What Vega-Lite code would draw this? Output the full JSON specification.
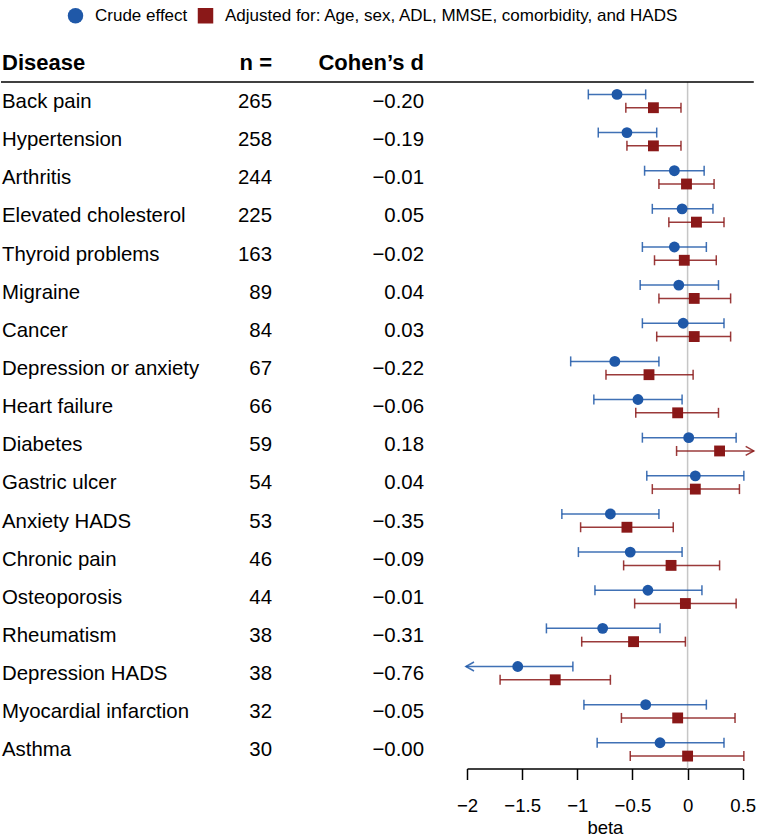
{
  "$schema": "https://vega.github.io/schema/vega-lite/v6.json",
  "padding": {"top": 7, "left": 0, "right": 0, "bottom": 0},
  "bounds": "flush",
  "spacing": 0,
  "config": {"font": "Liberation Sans", "view": {"stroke": null}},
  "datasets": {
    "table": [
      {"disease": "Back pain", "n": 265, "d": "−0.20"},
      {"disease": "Hypertension", "n": 258, "d": "−0.19"},
      {"disease": "Arthritis", "n": 244, "d": "−0.01"},
      {"disease": "Elevated cholesterol", "n": 225, "d": "0.05"},
      {"disease": "Thyroid problems", "n": 163, "d": "−0.02"},
      {"disease": "Migraine", "n": 89, "d": "0.04"},
      {"disease": "Cancer", "n": 84, "d": "0.03"},
      {"disease": "Depression or anxiety", "n": 67, "d": "−0.22"},
      {"disease": "Heart failure", "n": 66, "d": "−0.06"},
      {"disease": "Diabetes", "n": 59, "d": "0.18"},
      {"disease": "Gastric ulcer", "n": 54, "d": "0.04"},
      {"disease": "Anxiety HADS", "n": 53, "d": "−0.35"},
      {"disease": "Chronic pain", "n": 46, "d": "−0.09"},
      {"disease": "Osteoporosis", "n": 44, "d": "−0.01"},
      {"disease": "Rheumatism", "n": 38, "d": "−0.31"},
      {"disease": "Depression HADS", "n": 38, "d": "−0.76"},
      {"disease": "Myocardial infarction", "n": 32, "d": "−0.05"},
      {"disease": "Asthma", "n": 30, "d": "−0.00"}
    ],
    "header": [
      {"h": "Disease"},
      {"h": "n ="},
      {"h": "Cohen’s d"}
    ],
    "effects": [
      {"disease": "Back pain", "type": "Crude effect", "est": -0.64, "lo": -0.90, "hi": -0.38, "arrow": "none"},
      {"disease": "Back pain", "type": "Adjusted for: Age, sex, ADL, MMSE, comorbidity, and HADS", "est": -0.31, "lo": -0.56, "hi": -0.06, "arrow": "none"},
      {"disease": "Hypertension", "type": "Crude effect", "est": -0.55, "lo": -0.81, "hi": -0.28, "arrow": "none"},
      {"disease": "Hypertension", "type": "Adjusted for: Age, sex, ADL, MMSE, comorbidity, and HADS", "est": -0.31, "lo": -0.55, "hi": -0.06, "arrow": "none"},
      {"disease": "Arthritis", "type": "Crude effect", "est": -0.12, "lo": -0.39, "hi": 0.15, "arrow": "none"},
      {"disease": "Arthritis", "type": "Adjusted for: Age, sex, ADL, MMSE, comorbidity, and HADS", "est": -0.01, "lo": -0.26, "hi": 0.24, "arrow": "none"},
      {"disease": "Elevated cholesterol", "type": "Crude effect", "est": -0.05, "lo": -0.32, "hi": 0.23, "arrow": "none"},
      {"disease": "Elevated cholesterol", "type": "Adjusted for: Age, sex, ADL, MMSE, comorbidity, and HADS", "est": 0.08, "lo": -0.17, "hi": 0.33, "arrow": "none"},
      {"disease": "Thyroid problems", "type": "Crude effect", "est": -0.12, "lo": -0.41, "hi": 0.17, "arrow": "none"},
      {"disease": "Thyroid problems", "type": "Adjusted for: Age, sex, ADL, MMSE, comorbidity, and HADS", "est": -0.03, "lo": -0.30, "hi": 0.26, "arrow": "none"},
      {"disease": "Migraine", "type": "Crude effect", "est": -0.08, "lo": -0.43, "hi": 0.28, "arrow": "none"},
      {"disease": "Migraine", "type": "Adjusted for: Age, sex, ADL, MMSE, comorbidity, and HADS", "est": 0.06, "lo": -0.26, "hi": 0.39, "arrow": "none"},
      {"disease": "Cancer", "type": "Crude effect", "est": -0.04, "lo": -0.41, "hi": 0.33, "arrow": "none"},
      {"disease": "Cancer", "type": "Adjusted for: Age, sex, ADL, MMSE, comorbidity, and HADS", "est": 0.06, "lo": -0.28, "hi": 0.39, "arrow": "none"},
      {"disease": "Depression or anxiety", "type": "Crude effect", "est": -0.66, "lo": -1.06, "hi": -0.26, "arrow": "none"},
      {"disease": "Depression or anxiety", "type": "Adjusted for: Age, sex, ADL, MMSE, comorbidity, and HADS", "est": -0.35, "lo": -0.74, "hi": 0.05, "arrow": "none"},
      {"disease": "Heart failure", "type": "Crude effect", "est": -0.45, "lo": -0.85, "hi": -0.05, "arrow": "none"},
      {"disease": "Heart failure", "type": "Adjusted for: Age, sex, ADL, MMSE, comorbidity, and HADS", "est": -0.09, "lo": -0.47, "hi": 0.28, "arrow": "none"},
      {"disease": "Diabetes", "type": "Crude effect", "est": 0.01, "lo": -0.41, "hi": 0.44, "arrow": "none"},
      {"disease": "Diabetes", "type": "Adjusted for: Age, sex, ADL, MMSE, comorbidity, and HADS", "est": 0.29, "lo": -0.10, "hi": 0.60, "arrow": "right"},
      {"disease": "Gastric ulcer", "type": "Crude effect", "est": 0.07, "lo": -0.37, "hi": 0.51, "arrow": "none"},
      {"disease": "Gastric ulcer", "type": "Adjusted for: Age, sex, ADL, MMSE, comorbidity, and HADS", "est": 0.07, "lo": -0.32, "hi": 0.47, "arrow": "none"},
      {"disease": "Anxiety HADS", "type": "Crude effect", "est": -0.70, "lo": -1.14, "hi": -0.26, "arrow": "none"},
      {"disease": "Anxiety HADS", "type": "Adjusted for: Age, sex, ADL, MMSE, comorbidity, and HADS", "est": -0.55, "lo": -0.97, "hi": -0.13, "arrow": "none"},
      {"disease": "Chronic pain", "type": "Crude effect", "est": -0.52, "lo": -0.99, "hi": -0.05, "arrow": "none"},
      {"disease": "Chronic pain", "type": "Adjusted for: Age, sex, ADL, MMSE, comorbidity, and HADS", "est": -0.15, "lo": -0.58, "hi": 0.29, "arrow": "none"},
      {"disease": "Osteoporosis", "type": "Crude effect", "est": -0.36, "lo": -0.84, "hi": 0.13, "arrow": "none"},
      {"disease": "Osteoporosis", "type": "Adjusted for: Age, sex, ADL, MMSE, comorbidity, and HADS", "est": -0.02, "lo": -0.48, "hi": 0.44, "arrow": "none"},
      {"disease": "Rheumatism", "type": "Crude effect", "est": -0.77, "lo": -1.28, "hi": -0.25, "arrow": "none"},
      {"disease": "Rheumatism", "type": "Adjusted for: Age, sex, ADL, MMSE, comorbidity, and HADS", "est": -0.49, "lo": -0.96, "hi": -0.02, "arrow": "none"},
      {"disease": "Depression HADS", "type": "Crude effect", "est": -1.54, "lo": -2.01, "hi": -1.04, "arrow": "left"},
      {"disease": "Depression HADS", "type": "Adjusted for: Age, sex, ADL, MMSE, comorbidity, and HADS", "est": -1.20, "lo": -1.70, "hi": -0.70, "arrow": "none"},
      {"disease": "Myocardial infarction", "type": "Crude effect", "est": -0.38, "lo": -0.94, "hi": 0.17, "arrow": "none"},
      {"disease": "Myocardial infarction", "type": "Adjusted for: Age, sex, ADL, MMSE, comorbidity, and HADS", "est": -0.09, "lo": -0.60, "hi": 0.43, "arrow": "none"},
      {"disease": "Asthma", "type": "Crude effect", "est": -0.25, "lo": -0.82, "hi": 0.33, "arrow": "none"},
      {"disease": "Asthma", "type": "Adjusted for: Age, sex, ADL, MMSE, comorbidity, and HADS", "est": 0.00, "lo": -0.52, "hi": 0.51, "arrow": "none"}
    ]
  },
  "hconcat": [
    {
      "width": 466,
      "height": 686.5,
      "layer": [
        {
          "data": {"name": "table"},
          "mark": {"type": "text", "align": "left", "baseline": "middle", "fontSize": 20.4, "color": "black", "dy": 1},
          "encoding": {
            "y": {"field": "disease", "type": "nominal", "axis": null,
              "scale": {"domain": ["Back pain", "Hypertension", "Arthritis", "Elevated cholesterol", "Thyroid problems", "Migraine", "Cancer", "Depression or anxiety", "Heart failure", "Diabetes", "Gastric ulcer", "Anxiety HADS", "Chronic pain", "Osteoporosis", "Rheumatism", "Depression HADS", "Myocardial infarction", "Asthma"], "paddingInner": 0, "paddingOuter": 0}},
            "x": {"datum": "Disease", "type": "nominal", "bandPosition": 0, "axis": null,
              "scale": {"type": "band", "domain": ["Disease", "n =", "Cohen’s d"], "range": [1, 423], "paddingInner": 0.2237, "paddingOuter": 0}},
            "text": {"field": "disease"}
          }
        },
        {
          "data": {"name": "table"},
          "mark": {"type": "text", "align": "right", "baseline": "middle", "fontSize": 20.4, "color": "black", "dy": 1},
          "encoding": {
            "y": {"field": "disease", "type": "nominal", "axis": null},
            "x": {"datum": "n =", "type": "nominal", "bandPosition": 1, "axis": null},
            "text": {"field": "n"}
          }
        },
        {
          "data": {"name": "table"},
          "mark": {"type": "text", "align": "right", "baseline": "middle", "fontSize": 20.4, "color": "black", "dy": 1},
          "encoding": {
            "y": {"field": "disease", "type": "nominal", "axis": null},
            "x": {"datum": "Cohen’s d", "type": "nominal", "bandPosition": 1, "axis": null},
            "text": {"field": "d"}
          }
        },
        {
          "data": {"name": "header"},
          "transform": [{"filter": "datum.h == 'Disease'"}],
          "mark": {"type": "text", "align": "left", "baseline": "middle", "fontSize": 22, "fontWeight": "bold", "color": "black"},
          "encoding": {
            "y": {"datum": "Back pain", "type": "nominal", "bandPosition": -0.5, "axis": null},
            "x": {"field": "h", "type": "nominal", "bandPosition": 0, "axis": null},
            "text": {"field": "h"}
          }
        },
        {
          "data": {"name": "header"},
          "transform": [{"filter": "datum.h != 'Disease'"}],
          "mark": {"type": "text", "align": "right", "baseline": "middle", "fontSize": 22, "fontWeight": "bold", "color": "black"},
          "encoding": {
            "y": {"datum": "Back pain", "type": "nominal", "bandPosition": -0.5, "axis": null},
            "x": {"field": "h", "type": "nominal", "bandPosition": 1, "axis": null},
            "text": {"field": "h"}
          }
        },
        {
          "data": {"values": [{"line": "header"}]},
          "mark": {"type": "rule", "color": "black", "strokeWidth": 1.5},
          "encoding": {
            "y": {"datum": "Back pain", "type": "nominal", "bandPosition": 0, "axis": null}
          }
        }
      ]
    },
    {
      "width": 275.75,
      "height": 686.5,
      "layer": [
        {
          "data": {"values": [{"ref": 0}]},
          "mark": {"type": "rule", "color": "#c6c6c6", "strokeWidth": 1.5},
          "encoding": {
            "x": {"datum": 0, "type": "quantitative",
              "scale": {"domain": [-2, 0.5], "nice": false, "zero": false},
              "axis": {"values": [-2, -1.5, -1, -0.5, 0, 0.5], "format": "~g", "title": "beta", "grid": false,
                "domainColor": "black", "domainWidth": 1.5, "tickColor": "black", "tickWidth": 1.5, "tickSize": 11,
                "labelFontSize": 18.6, "labelColor": "black", "labelPadding": 17, "labelFlush": false, "labelOverlap": false,
                "titleFontSize": 18.5, "titleFontWeight": "normal", "titleColor": "black", "titlePadding": 3}}
          }
        },
        {
          "data": {"values": [{"line": "header"}]},
          "mark": {"type": "rule", "color": "black", "strokeWidth": 1.5},
          "encoding": {
            "y": {"datum": "Back pain", "type": "nominal", "bandPosition": 0, "axis": null},
            "x": {"datum": -2, "type": "quantitative"},
            "x2": {"datum": 0.6}
          }
        },
        {
          "data": {"name": "effects"},
          "mark": {"type": "point", "filled": true, "size": 118, "opacity": 1, "strokeWidth": 0},
          "encoding": {
            "y": {"field": "disease", "type": "nominal", "axis": null,
              "scale": {"domain": ["Back pain", "Hypertension", "Arthritis", "Elevated cholesterol", "Thyroid problems", "Migraine", "Cancer", "Depression or anxiety", "Heart failure", "Diabetes", "Gastric ulcer", "Anxiety HADS", "Chronic pain", "Osteoporosis", "Rheumatism", "Depression HADS", "Myocardial infarction", "Asthma"], "paddingInner": 0, "paddingOuter": 0}},
            "yOffset": {"field": "type", "type": "nominal",
              "scale": {"domain": ["Crude effect", "Adjusted for: Age, sex, ADL, MMSE, comorbidity, and HADS"], "paddingInner": 0, "paddingOuter": 0.434}},
            "x": {"field": "est", "type": "quantitative"},
            "color": {"field": "type", "type": "nominal",
              "scale": {"domain": ["Crude effect", "Adjusted for: Age, sex, ADL, MMSE, comorbidity, and HADS"], "range": ["#1f58a8", "#8a1818"]},
              "legend": {"orient": "none", "legendX": 66, "legendY": -75, "padding": 0, "direction": "horizontal", "title": null,
                "labelFontSize": 17, "labelColor": "black", "labelLimit": 0, "symbolSize": 240, "labelOffset": 11, "columnPadding": 9, "symbolStrokeWidth": 0, "symbolOpacity": 1}},
            "shape": {"field": "type", "type": "nominal",
              "scale": {"domain": ["Crude effect", "Adjusted for: Age, sex, ADL, MMSE, comorbidity, and HADS"], "range": ["circle", "square"]},
              "legend": {"orient": "none", "legendX": 66, "legendY": -75, "padding": 0, "direction": "horizontal", "title": null,
                "labelFontSize": 17, "labelColor": "black", "labelLimit": 0, "symbolSize": 240, "labelOffset": 11, "columnPadding": 9, "symbolStrokeWidth": 0, "symbolOpacity": 1}}
          }
        },
        {
          "data": {"name": "effects"},
          "mark": {"type": "rule", "strokeWidth": 1.5, "opacity": 1, "strokeOpacity": 0.85},
          "encoding": {
            "y": {"field": "disease", "type": "nominal", "axis": null},
            "yOffset": {"field": "type", "type": "nominal"},
            "x": {"field": "lo", "type": "quantitative"},
            "x2": {"field": "hi"},
            "color": {"field": "type", "type": "nominal"}
          }
        },
        {
          "data": {"name": "effects"},
          "transform": [{"filter": "datum.arrow != 'left'"}],
          "mark": {"type": "tick", "orient": "vertical", "size": 10, "thickness": 1.5, "opacity": 1, "fillOpacity": 0.85},
          "encoding": {
            "y": {"field": "disease", "type": "nominal", "axis": null},
            "yOffset": {"field": "type", "type": "nominal"},
            "x": {"field": "lo", "type": "quantitative"},
            "color": {"field": "type", "type": "nominal"}
          }
        },
        {
          "data": {"name": "effects"},
          "transform": [{"filter": "datum.arrow != 'right'"}],
          "mark": {"type": "tick", "orient": "vertical", "size": 10, "thickness": 1.5, "opacity": 1, "fillOpacity": 0.85},
          "encoding": {
            "y": {"field": "disease", "type": "nominal", "axis": null},
            "yOffset": {"field": "type", "type": "nominal"},
            "x": {"field": "hi", "type": "quantitative"},
            "color": {"field": "type", "type": "nominal"}
          }
        },
        {
          "data": {"name": "effects"},
          "transform": [{"filter": "datum.arrow == 'right'"}],
          "mark": {"type": "point", "shape": "M -1.8 -1 L 0 0 L -1.8 1", "filled": false, "size": 81, "strokeWidth": 1.5, "opacity": 1, "strokeOpacity": 0.85},
          "encoding": {
            "y": {"field": "disease", "type": "nominal", "axis": null},
            "yOffset": {"field": "type", "type": "nominal"},
            "x": {"field": "hi", "type": "quantitative"},
            "color": {"field": "type", "type": "nominal"}
          }
        },
        {
          "data": {"name": "effects"},
          "transform": [{"filter": "datum.arrow == 'left'"}],
          "mark": {"type": "point", "shape": "M 1.8 -1 L 0 0 L 1.8 1", "filled": false, "size": 81, "strokeWidth": 1.5, "opacity": 1, "strokeOpacity": 0.85},
          "encoding": {
            "y": {"field": "disease", "type": "nominal", "axis": null},
            "yOffset": {"field": "type", "type": "nominal"},
            "x": {"field": "lo", "type": "quantitative"},
            "color": {"field": "type", "type": "nominal"}
          }
        }
      ]
    }
  ]
}
